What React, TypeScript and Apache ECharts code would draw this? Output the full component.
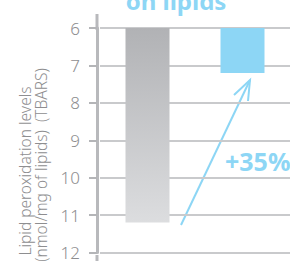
import React, { useEffect, useRef } from "react";
import * as echarts from "echarts";

const categories = ["Control", "Treated"];
const values = [11.2, 7.2];
const yTicks = [6, 7, 8, 9, 10, 11, 12];
const titleText = "on lipids";
const nameLine1 = "Lipid peroxidation levels";
const nameLine2 = "(nmol/mg of lipids)  (TBARS)";
const changeLabel = "+35%";

const BLUE = "#8dd6f5";
const GRAY_TXT = "#8e8e90";
const FONT = "'Noto Sans', 'DejaVu Sans', sans-serif";

export default function App() {
  const ref = useRef<HTMLDivElement>(null);
  useEffect(() => {
    if (!ref.current) return;
    const chart = echarts.init(ref.current, null, { renderer: "svg" });
    chart.setOption({
      animation: false,
      grid: { left: 100, width: 202, top: 28, bottom: 4, containLabel: false },
      xAxis: {
        type: "category",
        data: categories,
        show: false,
      },
      yAxis: {
        type: "value",
        inverse: true,
        offset: 3,
        min: yTicks[0],
        max: yTicks[yTicks.length - 1],
        interval: 1,
        axisLine: { show: true, lineStyle: { color: "#b8b9bc", width: 3 } },
        axisTick: { show: true, length: 8, lineStyle: { color: "#b4b5b8", width: 2 } },
        axisLabel: {
          color: GRAY_TXT,
          fontSize: 17,
          margin: 17,
          fontFamily: FONT,
          fontWeight: 300,
        },
        splitLine: { show: true, lineStyle: { color: "#c9cacc", width: 2 } },
      },
      series: [
        {
          type: "bar",
          data: [
            {
              value: values[0],
              itemStyle: {
                color: new echarts.graphic.LinearGradient(0, 0, 0, 1, [
                  { offset: 0, color: "#b1b2b5" },
                  { offset: 1, color: "#dcdddf" },
                ]),
              },
            },
            { value: values[1], itemStyle: { color: BLUE } },
          ],
          barWidth: 44,
          clip: true,
        },
      ],
      graphic: [
        {
          type: "line",
          shape: { x1: 97, y1: 14, x2: 97, y2: 30 },
          style: { stroke: "#b8b9bc", lineWidth: 3 },
        },
        {
          type: "line",
          shape: { x1: 97, y1: 255, x2: 97, y2: 262 },
          style: { stroke: "#b8b9bc", lineWidth: 3 },
        },
        {
          type: "text",
          x: 176,
          y: 12,
          style: {
            text: titleText,
            fill: BLUE,
            font: `bold 24px ${FONT}`,
            textAlign: "center",
            textVerticalAlign: "bottom",
          },
        },
        {
          type: "text",
          x: 25,
          y: 171,
          rotation: Math.PI / 2,
          style: {
            text: nameLine1,
            fill: GRAY_TXT,
            font: `300 15.5px ${FONT}`,
            textAlign: "center",
            textVerticalAlign: "middle",
          },
        },
        {
          type: "text",
          x: 41,
          y: 165,
          rotation: Math.PI / 2,
          style: {
            text: nameLine2,
            fill: GRAY_TXT,
            font: `300 15.5px ${FONT}`,
            textAlign: "center",
            textVerticalAlign: "middle",
          },
        },
        {
          type: "line",
          shape: { x1: 181, y1: 225, x2: 250, y2: 80 },
          style: { stroke: BLUE, lineWidth: 2 },
        },
        {
          type: "polyline",
          shape: { points: [[234, 95], [250, 80], [248, 101]] },
          style: { stroke: BLUE, lineWidth: 2, fill: "none" },
        },
        {
          type: "text",
          x: 225,
          y: 161,
          style: {
            text: changeLabel,
            fill: BLUE,
            font: `bold 25px ${FONT}`,
            textAlign: "left",
            textVerticalAlign: "middle",
          },
        },
      ],
    });
    return () => chart.dispose();
  }, []);
  return (
    <div
      ref={ref}
      style={{ position: "fixed", left: 0, top: 0, width: 290, height: 261, background: "#fff" }}
    />
  );
}
